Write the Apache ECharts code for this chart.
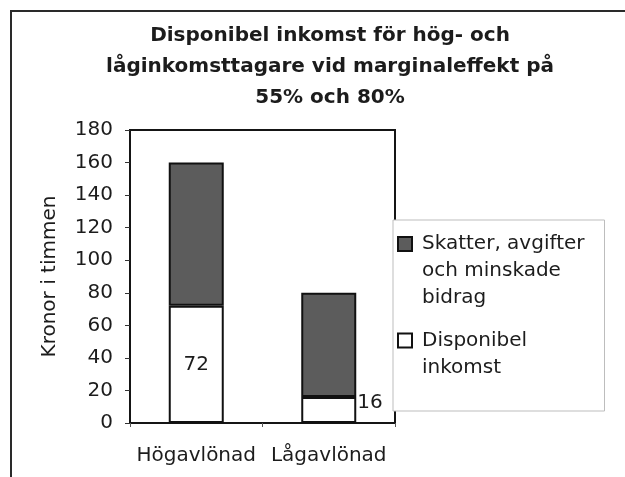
<!DOCTYPE html>
<html>
<head>
<meta charset="utf-8">
<script src="https://cdn.jsdelivr.net/npm/echarts@6/dist/echarts.min.js"></script>
<style>
html, body { margin: 0; padding: 0; background: #fff; }
#myChart { width: 625px; height: 477px; }
</style>
</head>
<body>
<div id="myChart"></div>
<script>
// data
var categories = ['Högavlönad', 'Lågavlönad'];
var disponibel = [72, 16];
var skatter = [88, 64];          // 160 - 72, 80 - 16
var nameSkatter = 'Skatter, avgifter och minskade bidrag';
var nameDisponibel = 'Disponibel inkomst';
var legendText = {};
legendText[nameSkatter] = 'Skatter, avgifter\noch minskade\nbidrag';
legendText[nameDisponibel] = 'Disponibel\ninkomst';
var yMin = 0, yMax = 180, yStep = 20;

var font = 'DejaVu Sans';
var ink = '#1c1c1c';

// legend text is centred on its icon, so the icon box is as tall as three lines
// and the square sits at the height of the first text line
var iconSkatter = 'path://M0,6.5h14v14h-14zM0,0M14,81';
var iconDisponibel = 'path://M0,20h14v14h-14zM0,0M14,81';

var myChart = echarts.init(document.getElementById('myChart'));

var options = {
    animation: false,
    textStyle: { fontFamily: font },
    title: {
        text: 'Disponibel inkomst för hög- och\nlåginkomsttagare vid marginaleffekt på\n55% och 80%',
        left: 330,
        top: 20,
        padding: 0,
        textAlign: 'center',
        textStyle: {
            fontFamily: font,
            fontSize: 20,
            fontWeight: 'bold',
            lineHeight: 31,
            color: ink
        }
    },
    graphic: [{
        // outer frame of the scanned figure
        type: 'rect',
        z: 0,
        shape: { x: 11, y: 11, width: 700, height: 600 },
        style: { fill: 'none', stroke: '#2a2a2a', lineWidth: 2 }
    }],
    grid: {
        left: 130,
        top: 130,
        right: 230,
        bottom: 54,
        show: true,
        borderColor: '#151515',
        borderWidth: 2,
        backgroundColor: 'transparent'
    },
    legend: {
        left: 393,
        top: 220,
        orient: 'vertical',
        padding: [9.5, 20, 15.5, 4],
        itemGap: 0,
        itemWidth: 14,
        itemHeight: 81,
        backgroundColor: '#fff',
        borderColor: '#bdbdbd',
        borderWidth: 1,
        borderRadius: 0,
        formatter: function (name) { return legendText[name]; },
        textStyle: {
            fontFamily: font,
            fontSize: 20,
            lineHeight: 27,
            color: ink,
            padding: [0, 0, 0, 5]
        },
        data: [
            { name: nameSkatter, icon: iconSkatter },
            { name: nameDisponibel, icon: iconDisponibel }
        ]
    },
    xAxis: {
        type: 'category',
        data: categories,
        axisLine: { lineStyle: { color: '#151515', width: 2 } },
        axisTick: { show: true, length: 4, lineStyle: { color: '#555' } },
        axisLabel: { interval: 0, fontFamily: font, fontSize: 20, color: ink, margin: 23 }
    },
    yAxis: {
        type: 'value',
        min: yMin,
        max: yMax,
        interval: yStep,
        name: 'Kronor i timmen',
        nameLocation: 'middle',
        nameGap: 70,
        nameTextStyle: { fontFamily: font, fontSize: 20, color: ink },
        splitLine: { show: false },
        axisLine: { show: true, lineStyle: { color: '#151515', width: 2 } },
        axisTick: { show: true, length: 5, lineStyle: { color: '#333' } },
        axisLabel: { fontFamily: font, fontSize: 20, color: ink, margin: 17 }
    },
    series: [{
        name: nameDisponibel,
        type: 'bar',
        stack: 'total',
        barWidth: 55,
        itemStyle: { color: '#ffffff', borderColor: '#111', borderWidth: 2 },
        label: {
            show: true,
            position: 'inside',
            fontFamily: font,
            fontSize: 20,
            color: ink
        },
        data: disponibel.map(function (v, i) {
            // the small segment keeps its label just right of the bar
            if (i === 1) {
                return { value: v, label: { position: 'right', distance: 1, offset: [0, -7] } };
            }
            return v;
        })
    }, {
        name: nameSkatter,
        type: 'bar',
        stack: 'total',
        barWidth: 55,
        itemStyle: { color: '#5c5c5c', borderColor: '#111', borderWidth: 2 },
        data: skatter
    }]
};
myChart.setOption(options);
</script>
</body>
</html>
